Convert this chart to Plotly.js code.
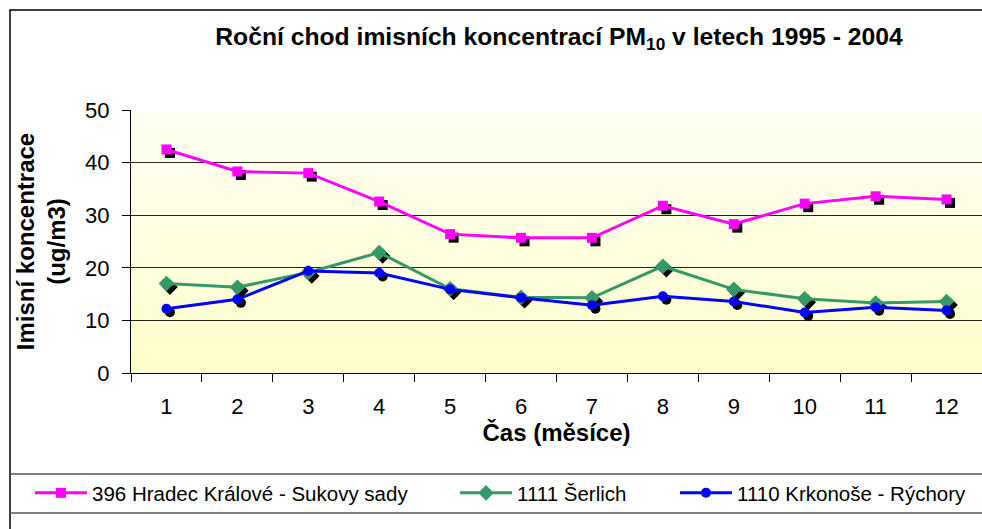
<!DOCTYPE html>
<html><head><meta charset="utf-8">
<script src="https://cdn.plot.ly/plotly-3.0.1.min.js"></script>
<style>html,body{margin:0;padding:0;background:#fff}#chart{width:982px;height:529px}</style>
</head><body><div id="chart"></div>
<script>
// ---- data ----
const months = ['1','2','3','4','5','6','7','8','9','10','11','12'];
const hradec  = [42.5, 38.3, 38.0, 32.6, 26.4, 25.7, 25.7, 31.8, 28.3, 32.2, 33.6, 33.0];
const serlich = [17.0, 16.3, 19.1, 22.9, 16.0, 14.4, 14.3, 20.3, 15.9, 14.1, 13.3, 13.6];
const rychory = [12.2, 14.0, 19.4, 19.0, 15.9, 14.3, 12.9, 14.6, 13.6, 11.5, 12.5, 11.9];
const seriesNames = ['396 Hradec Králové - Sukovy sady', '1111 Šerlich', '1110 Krkonoše - Rýchory'];
const yTicks = [0, 10, 20, 30, 40, 50];

// ---- geometry ----
const W = 982, H = 529, L = 131, R = 0, T = 110, B = 156;
const pw = W - L - R, ph = H - T - B;
const px2x = px => (px - L) / pw;
const py2y = py => (H - B - py) / ph;
const xr = [-0.5, 11.5], yr = [0, 50];
const dxu = 3.5 / (pw / 12), dyu = 3.5 * (yr[1] - yr[0]) / ph;
const FONT = 'Liberation Sans, Arial, sans-serif';

const colors = ['#FF00FF', '#339966', '#0000FF'];
const symbols = ['square', 'diamond', 'circle'];
const msize = [10, 12, 10];
const vals = [hradec, serlich, rychory];

const traces = [];
// shadows (drawn first, on the base subplot with a slightly shifted range)
vals.forEach((v, i) => traces.push({
  x: months, y: v, type: 'scatter', mode: 'markers', xaxis: 'x', yaxis: 'y',
  marker: {symbol: symbols[i], size: msize[i], color: '#000'}, showlegend: false, hoverinfo: 'skip', cliponaxis: false
}));
// main series (overlay subplot with the visible axes)
vals.forEach((v, i) => traces.push({
  x: months, y: v, type: 'scatter', mode: 'lines+markers', xaxis: 'x2', yaxis: 'y2',
  name: seriesNames[i], legend: i === 0 ? 'legend' : 'legend' + (i + 1),
  line: {color: colors[i], width: 3}, marker: {symbol: symbols[i], size: msize[i], color: colors[i]},
  cliponaxis: false
}));

const svg = "<svg xmlns='http://www.w3.org/2000/svg' width='10' height='100' preserveAspectRatio='none'><defs><linearGradient id='g' x1='0' y1='0' x2='0' y2='1'><stop offset='0' stop-color='#FFFFF4'/><stop offset='1' stop-color='#FFFFCC'/></linearGradient></defs><rect width='10' height='100' fill='url(#g)'/></svg>";
const bg = 'data:image/svg+xml;charset=utf-8,' + encodeURIComponent(svg);

const legendBase = (xpx) => ({
  orientation: 'h', x: px2x(xpx), xanchor: 'left', y: py2y(493), yanchor: 'middle',
  bgcolor: 'rgba(0,0,0,0)', font: {family: FONT, size: 20.5, color: '#000'}, itemwidth: 52
});

const layout = {
  width: W, height: H,
  margin: {l: L, r: R, t: T, b: B, pad: 0},
  paper_bgcolor: '#fff', plot_bgcolor: 'rgba(0,0,0,0)',
  font: {family: FONT, color: '#000'},
  title: {text: '<b>Roční chod imisních koncentrací PM<sub>10</sub> v letech 1995 - 2004</b>',
    font: {family: FONT, size: 24.7, color: '#000'}, xref: 'container', x: 559 / W, xanchor: 'center',
    yref: 'container', y: 1 - 36 / H, yanchor: 'middle'},
  xaxis: {type: 'category', range: [xr[0] - dxu, xr[1] - dxu], visible: false},
  yaxis: {range: [yr[0] + dyu, yr[1] + dyu], visible: false},
  xaxis2: {type: 'category', overlaying: 'x', anchor: 'y2', side: 'bottom', range: xr,
    tickson: 'boundaries', ticks: 'outside', ticklen: 8, tickcolor: '#000',
    showline: true, linecolor: '#000', linewidth: 1, showgrid: false, zeroline: false,
    tickfont: {family: FONT, size: 22, color: '#000'}, ticklabelstandoff: 14,
    title: {text: '<b>Čas (měsíce)</b>', font: {family: FONT, size: 24, color: '#000'}, standoff: 3}},
  yaxis2: {overlaying: 'y', anchor: 'x2', side: 'left', range: yr, tickvals: yTicks, ticks: 'outside', ticklen: 8, tickcolor: '#000',
    showline: true, linecolor: '#000', linewidth: 1, showgrid: true, gridcolor: '#222', gridwidth: 1, zeroline: false,
    tickfont: {family: FONT, size: 22, color: '#000'}, ticklabelstandoff: 8,
    title: {text: '<b>Imisní koncentrace</b><br><b>(ug/m3)</b>', font: {family: FONT, size: 24, color: '#000'}, standoff: 12}},
  legend: legendBase(30),
  legend2: legendBase(455),
  legend3: legendBase(675),
  images: [{source: bg, xref: 'paper', yref: 'paper', x: 0, y: 1, sizex: 1, sizey: 1,
    sizing: 'stretch', xanchor: 'left', yanchor: 'top', layer: 'below'}],
  shapes: [
    {type: 'rect', xref: 'paper', yref: 'paper', x0: px2x(10), x1: px2x(1010), y0: py2y(10), y1: py2y(560),
      line: {color: '#000', width: 1.5}, fillcolor: 'rgba(0,0,0,0)', layer: 'above'},
    {type: 'line', xref: 'paper', yref: 'paper', x0: px2x(10), x1: px2x(1010), y0: py2y(474), y1: py2y(474),
      line: {color: '#555', width: 1.5}},
    {type: 'line', xref: 'paper', yref: 'paper', x0: px2x(10), x1: px2x(1010), y0: py2y(513), y1: py2y(513),
      line: {color: '#555', width: 1.5}}
  ],
  showlegend: true, hovermode: false
};

Plotly.newPlot('chart', traces, layout, {displayModeBar: false, staticPlot: true});
</script></body></html>
